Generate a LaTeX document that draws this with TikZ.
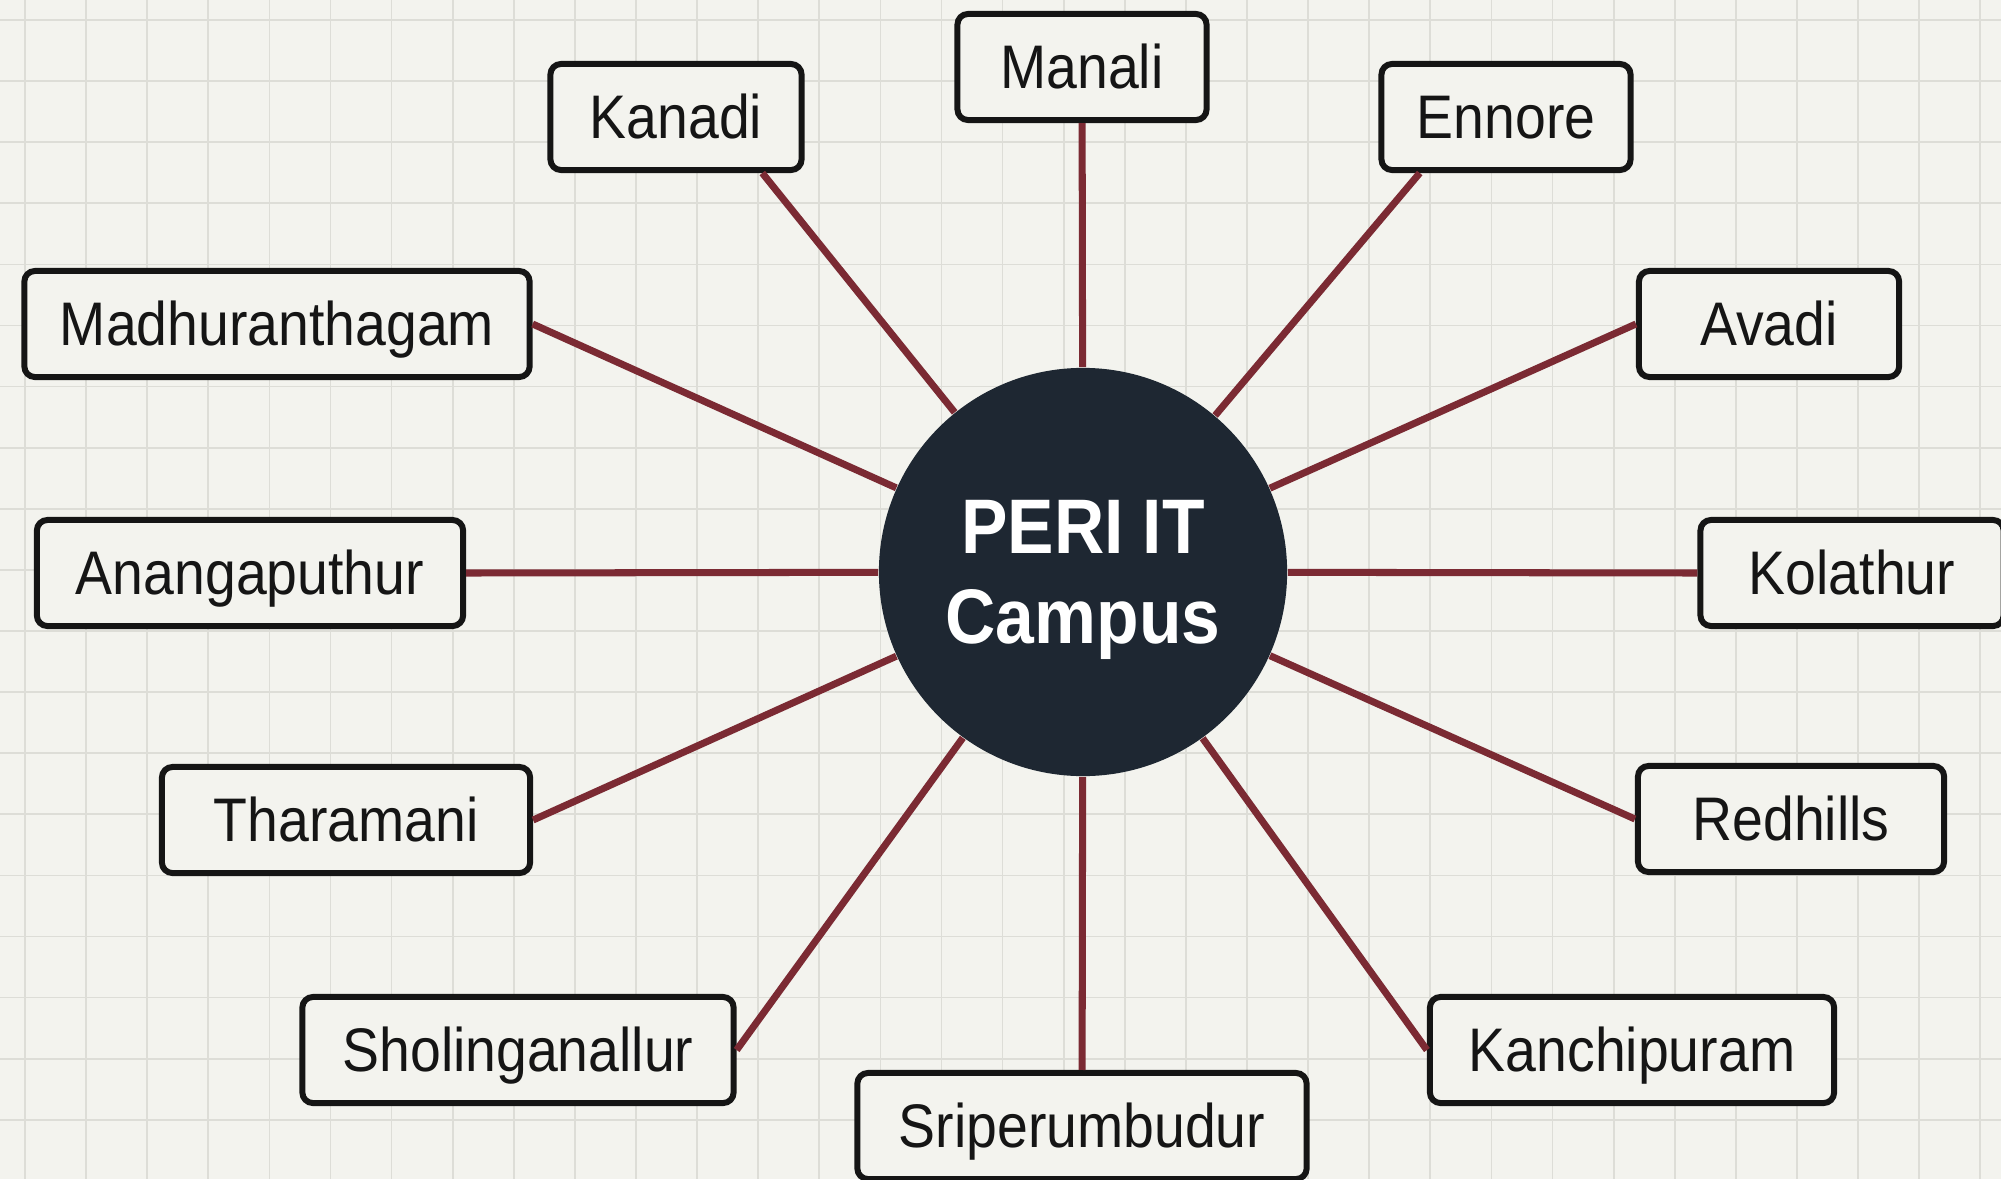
\documentclass[tikz,border=0pt]{standalone}
\usepackage{fontspec}
\setmainfont{Liberation Sans}[FakeStretch=0.9]
\definecolor{paper}{HTML}{F3F3EE}
\definecolor{gridgray}{HTML}{DDDDD7}
\definecolor{ink}{HTML}{151515}
\definecolor{hubfill}{HTML}{1E2732}
\definecolor{roadred}{HTML}{7B2A33}

\begin{document}
\begin{tikzpicture}[x=0.01cm, y=0.01cm,
        place/.style={draw=ink, line width=1.7pt, rounded corners=3pt, fill=paper,
            minimum height=1.06cm, text height=12.5pt, text depth=0pt, text=ink,
            font=\fontsize{17.5}{21}\selectfont},
        hub/.style={circle, fill=hubfill, minimum size=4.08cm, text=white, align=center,
            text depth=0pt, font=\fontsize{22}{25.6}\selectfont\bfseries},
        road/.style={draw=roadred, line width=2pt},
        gridline/.style={draw=gridgray, line width=0.5pt}]
        \tikzstyle{every node}+=[inner sep=0pt]
        \fill [paper] (0,0) rectangle (2001,-1179);
        \useasboundingbox (0,0) rectangle (2001,-1179);
        % squared paper
        \foreach \i in {0,...,32}
            \draw [gridline] ({25+61.1*\i},0) -- ({25+61.1*\i},-1179);
        \foreach \j in {0,...,19}
            \draw [gridline] (0,{-20-61.1*\j}) -- (2001,{-20-61.1*\j});
        % campus and the places round it
        \node [hub] (campus) at (1083,-572) {PERI IT\\Campus};
        \node [place, minimum width=2.49cm] (manali) at (1082,-67) {Manali};
        \node [place, minimum width=2.51cm] (kanadi) at (676,-117) {Kanadi};
        \node [place, minimum width=2.49cm] (ennore) at (1506,-117) {Ennore};
        \node [place, minimum width=5.05cm] (madhu) at (277,-324) {Madhuranthagam};
        \node [place, minimum width=2.60cm] (avadi) at (1769,-324) {Avadi};
        \node [place, minimum width=4.26cm] (anang) at (250,-573) {Anangaputhur};
        \node [place, minimum width=3.03cm] (kolathur) at (1852,-573) {Kolathur};
        \node [place, minimum width=3.68cm] (tharamani) at (346,-820) {Tharamani};
        \node [place, minimum width=3.06cm] (redhills) at (1791,-819) {Redhills};
        \node [place, minimum width=4.31cm] (sholing) at (518,-1050) {Sholinganallur};
        \node [place, minimum width=4.04cm] (kanchi) at (1632,-1050) {Kanchipuram};
        \node [place, minimum width=4.49cm] (sriper) at (1082,-1126) {Sriperumbudur};
        % roads
        \draw [road] (campus) -- (manali);
        \draw [road] (campus) -- (kanadi.-33);
        \draw [road] (campus) -- (ennore.-147);
        \draw [road] (campus) -- (madhu.east);
        \draw [road] (campus) -- (avadi.west);
        \draw [road] (campus) -- (anang.east);
        \draw [road] (campus) -- (kolathur.west);
        \draw [road] (campus) -- (tharamani.east);
        \draw [road] (campus) -- (redhills.west);
        \draw [road] (campus) -- (sholing.east);
        \draw [road] (campus) -- (kanchi.west);
        \draw [road] (campus) -- (sriper);
\end{tikzpicture}
\end{document}
